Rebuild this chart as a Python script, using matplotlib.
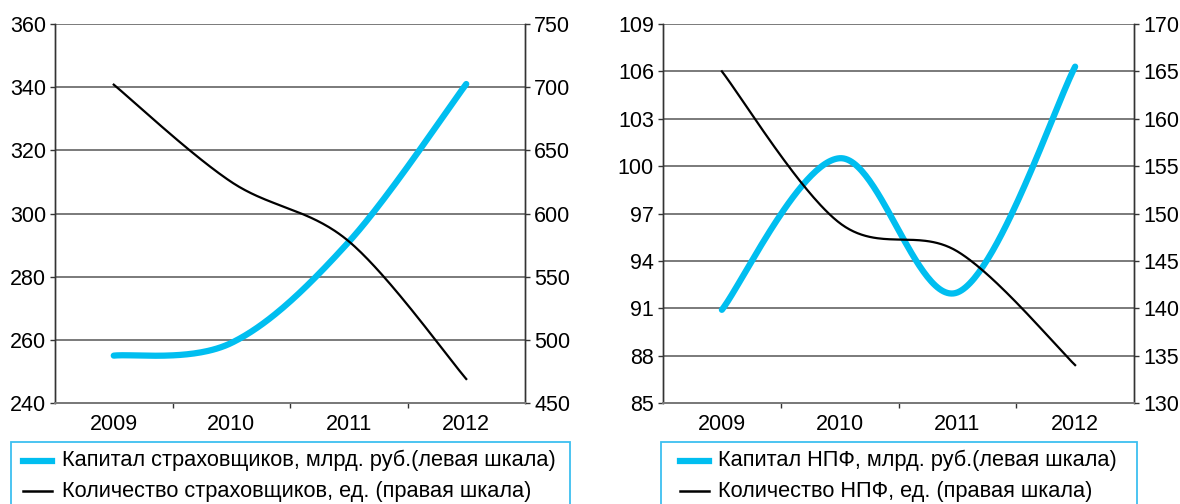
import numpy as np
import matplotlib
matplotlib.use('Agg')
import matplotlib.pyplot as plt
from matplotlib.patches import Rectangle
from matplotlib.lines import Line2D

plt.rcParams['font.family'] = ['Liberation Sans', 'DejaVu Sans']

years = ['2009', '2010', '2011', '2012']

# insurers
ins_capital = [255, 259, 291, 341]      # left scale, bln rub
ins_count = [702, 625, 578, 469]        # right scale, units
# pension funds (НПФ)
npf_capital = [90.9, 100.5, 92.0, 106.3]
npf_count = [165, 149, 146, 134]

BLUE = '#00BEF0'
GRID = '#7a7a7a'
W, H = 1180, 504
FS = 15.5


def smooth(vals, n=60):
    # excel-like smoothed line (bezier through the points)
    y = np.asarray(vals, float)
    x = np.arange(len(y), dtype=float)
    px = np.concatenate([[x[0]], x, [x[-1]]])
    py = np.concatenate([[y[0]], y, [y[-1]]])
    t = np.linspace(0, 1, n)
    xs, ys = [], []
    for i in range(len(y) - 1):
        out = []
        for p in (px, py):
            p0, p1, p2, p3 = p[i], p[i + 1], p[i + 2], p[i + 3]
            c1 = p1 + (p2 - p0) / 6
            c2 = p2 - (p3 - p1) / 6
            out.append((1 - t)**3 * p1 + 3 * (1 - t)**2 * t * c1 + 3 * (1 - t) * t**2 * c2 + t**3 * p2)
        xs.append(out[0])
        ys.append(out[1])
    return np.concatenate(xs), np.concatenate(ys)


def panel(rect, cap, cnt, lticks, rticks):
    ax = fig.add_axes(rect)
    ax2 = ax.twinx()
    x, y = smooth(cap)
    ax.plot(x, y, color=BLUE, lw=4.5, solid_capstyle='round')
    x, y = smooth(cnt)
    ax2.plot(x, y, color='black', lw=1.6)

    ax.set_xlim(-0.5, len(years) - 0.5)
    ax.set_ylim(lticks[0], lticks[-1])
    ax2.set_ylim(rticks[0], rticks[-1])
    ax.set_yticks(lticks)
    ax2.set_yticks(rticks)
    ax.set_xticks(range(len(years)))
    ax.set_xticklabels(years)
    ax.set_xticks(np.arange(0.5, len(years) - 1, 1), minor=True)
    ax.yaxis.grid(True, color=GRID, lw=1.4)
    ax.set_axisbelow(True)

    ax.tick_params(axis='x', which='major', length=0, pad=8, labelsize=FS)
    ax.tick_params(axis='x', which='minor', length=3.5, width=1, color='#333333', direction='out')
    ax.tick_params(axis='y', length=3.5, width=1, pad=3, labelsize=FS, color='#333333')
    ax2.tick_params(axis='y', length=3.5, width=1, pad=3, labelsize=FS, color='#333333')
    for a in (ax, ax2):
        a.spines['top'].set_visible(False)
        a.spines['bottom'].set_color(GRID)
        a.spines['bottom'].set_linewidth(1.4)
        a.spines['left'].set_color('#333333')
        a.spines['right'].set_color('#333333')
        a.spines['left'].set_linewidth(1)
        a.spines['right'].set_linewidth(1)
    return ax


def legend_box(x0, x1, hx0, hx1, tx, labels):
    fig.add_artist(Rectangle((x0 / W, -0.05), (x1 - x0) / W, 1 - 442 / H + 0.05,
                             transform=fig.transFigure, facecolor='white',
                             edgecolor='#3DBFF0', lw=1.3))
    for (lab, col, lw), yy in zip(labels, (460.7, 491)):
        fy = 1 - yy / H
        fig.add_artist(Line2D([hx0 / W, hx1 / W], [fy, fy], color=col, lw=lw,
                              transform=fig.transFigure))
        fig.text(tx / W, fy, lab, fontsize=15.7, va='center', ha='left')


fig = plt.figure(figsize=(W / 100, H / 100), dpi=100)

panel([55 / W, 101 / H, 470 / W, 379 / H], ins_capital, ins_count,
      np.arange(240, 361, 20), np.arange(450, 751, 50))
panel([663 / W, 101 / H, 471 / W, 379 / H], npf_capital, npf_count,
      np.arange(85, 110, 3), np.arange(130, 171, 5))

legend_box(11, 570, 23, 52, 61.7,
           [('Капитал страховщиков, млрд. руб.(левая шкала)', BLUE, 4.5),
            ('Количество страховщиков, ед. (правая шкала)', 'black', 1.8)])
legend_box(661, 1137, 680, 709, 718,
           [('Капитал НПФ, млрд. руб.(левая шкала)', BLUE, 4.5),
            ('Количество НПФ, ед. (правая шкала)', 'black', 1.8)])

fig.savefig('out.png', dpi=100)
